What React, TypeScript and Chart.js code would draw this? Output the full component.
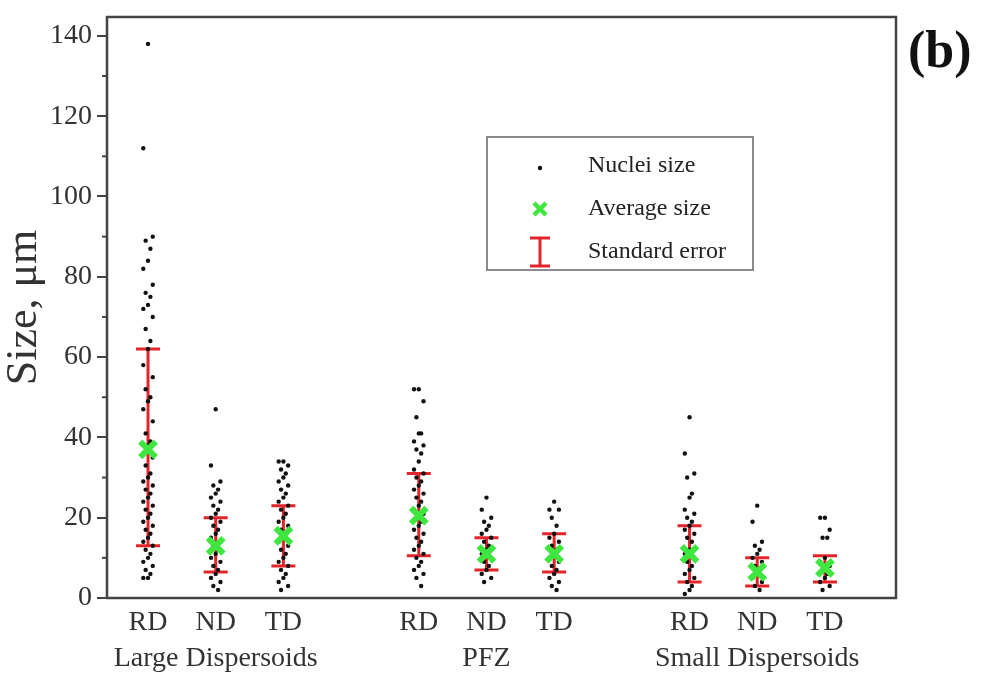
import React, { useEffect, useRef } from "react";
import { Chart, registerables } from "chart.js";

Chart.register(...registerables);

// ---- data ----
const categories = ["RD", "ND", "TD", "RD", "ND", "TD", "RD", "ND", "TD"];
const groupLabels = ["Large Dispersoids", "PFZ", "Small Dispersoids"];
const positions = [1, 2, 3, 5, 6, 7, 9, 10, 11];

const largeRD = [138, 112, 90, 89, 87, 84, 82, 78, 76, 75, 73, 72, 70, 67, 64, 62, 58, 55, 52, 50, 49, 47, 44, 41, 39, 38, 36, 35, 33, 31, 30, 29, 28, 27, 26, 25, 24, 23, 22, 21, 20, 19, 18, 17, 16, 15, 14, 13, 12, 11, 10, 9, 8, 7, 6, 5, 5];
const largeND = [47, 33, 29, 28, 27, 26, 25, 24, 23, 22, 21, 20, 19, 18, 17, 16, 15, 14, 13, 12, 11, 10, 9, 8, 7, 6, 5, 4, 3, 2];
const largeTD = [34, 34, 33, 32, 31, 30, 29, 28, 27, 26, 25, 24, 23, 22, 21, 20, 19, 18, 17, 16, 15, 14, 13, 12, 11, 10, 9, 8, 7, 6, 5, 4, 3, 2];
const pfzRD = [52, 52, 49, 45, 41, 41, 39, 38, 37, 36, 34, 32, 31, 30, 29, 28, 27, 26, 25, 24, 23, 22, 21, 20, 19, 18, 17, 16, 15, 14, 13, 12, 11, 10, 9, 8, 7, 6, 5, 3];
const pfzND = [25, 22, 20, 19, 18, 17, 16, 15, 14, 13, 12, 11, 10, 9, 8, 7, 6, 5, 4];
const pfzTD = [24, 22, 22, 20, 18, 16, 15, 14, 13, 12, 11, 10, 9, 8, 7, 6, 5, 4, 3, 2];
const smallRD = [45, 36, 31, 30, 26, 25, 22, 21, 20, 19, 18, 17, 16, 15, 14, 12, 11, 10, 9, 8, 7, 6, 5, 4, 3, 2, 1];
const smallND = [23, 19, 14, 13, 12, 11, 10, 9, 8, 7, 6, 5, 4, 3, 2];
const smallTD = [20, 20, 17, 15, 15, 10, 9, 8, 7, 6, 5, 4, 3, 2];
const nucleiSizes = [largeRD, largeND, largeTD, pfzRD, pfzND, pfzTD, smallRD, smallND, smallTD];

const averageSize = [37, 13, 15.5, 20.5, 11, 11, 11, 6.5, 7.5];
const errLow = [13, 6.5, 8, 10.5, 7, 6.5, 4, 3, 4];
const errHigh = [62, 20, 23, 31, 15, 16, 18, 10, 10.5];

const yTicks = [0, 20, 40, 60, 80, 100, 120, 140];
const yMinorTicks = [10, 30, 50, 70, 90, 110, 130];

const jitter = [0, -0.07, 0.07, -0.035, 0.035];

const RED = "#e3242b";
const GREEN = "#3fe63f";
const FONT = "'Liberation Serif', 'DejaVu Serif', serif";

export default function App() {
  const ref = useRef<HTMLCanvasElement | null>(null);

  useEffect(() => {
    const canvas = ref.current;
    if (!canvas) return;

    const pointData: { x: number; y: number }[] = [];
    nucleiSizes.forEach((arr, ci) => {
      arr.forEach((v, i) => {
        pointData.push({ x: positions[ci] + jitter[i % jitter.length], y: v });
      });
    });
    const meanData = positions.map((p, i) => ({ x: p, y: averageSize[i] }));

    const decor = {
      id: "decor",
      beforeDatasetsDraw(chart: any) {
        const { ctx, scales } = chart;
        const xs = scales.x, ys = scales.y;
        ctx.save();
        ctx.strokeStyle = RED;
        ctx.lineWidth = 3;
        positions.forEach((p, i) => {
          const x = xs.getPixelForValue(p);
          const y1 = ys.getPixelForValue(errLow[i]);
          const y2 = ys.getPixelForValue(errHigh[i]);
          ctx.beginPath();
          ctx.moveTo(x, y1);
          ctx.lineTo(x, y2);
          ctx.moveTo(x - 12, y1);
          ctx.lineTo(x + 12, y1);
          ctx.moveTo(x - 12, y2);
          ctx.lineTo(x + 12, y2);
          ctx.stroke();
        });
        ctx.restore();
      },
      afterDraw(chart: any) {
        const { ctx, chartArea, scales } = chart;
        ctx.save();
        // frame
        ctx.strokeStyle = "#444";
        ctx.lineWidth = 2.5;
        ctx.strokeRect(chartArea.left, chartArea.top, chartArea.right - chartArea.left, chartArea.bottom - chartArea.top);
        // minor ticks
        ctx.lineWidth = 2;
        yMinorTicks.forEach((v) => {
          const y = scales.y.getPixelForValue(v);
          ctx.beginPath();
          ctx.moveTo(chartArea.left - 5, y);
          ctx.lineTo(chartArea.left, y);
          ctx.stroke();
        });
        // legend
        ctx.strokeStyle = "#666";
        ctx.lineWidth = 1.5;
        ctx.strokeRect(487, 137, 266, 133);
        ctx.fillStyle = "#111";
        ctx.beginPath();
        ctx.arc(540, 168, 2.2, 0, Math.PI * 2);
        ctx.fill();
        ctx.strokeStyle = GREEN;
        ctx.lineWidth = 4.5;
        ctx.beginPath();
        ctx.moveTo(534, 203);
        ctx.lineTo(546, 215);
        ctx.moveTo(546, 203);
        ctx.lineTo(534, 215);
        ctx.stroke();
        ctx.strokeStyle = RED;
        ctx.lineWidth = 3;
        ctx.beginPath();
        ctx.moveTo(540, 238);
        ctx.lineTo(540, 266);
        ctx.moveTo(530, 238);
        ctx.lineTo(550, 238);
        ctx.moveTo(530, 266);
        ctx.lineTo(550, 266);
        ctx.stroke();
        ctx.fillStyle = "#222";
        ctx.font = `24px ${FONT}`;
        ctx.textBaseline = "middle";
        ctx.textAlign = "left";
        ctx.fillText("Nuclei size", 588, 166);
        ctx.fillText("Average size", 588, 209);
        ctx.fillText("Standard error", 588, 252);
        // panel label
        ctx.font = `bold 52px ${FONT}`;
        ctx.fillStyle = "#111";
        ctx.fillText("(b)", 908, 54);
        ctx.restore();
      },
    };

    const chart = new Chart(canvas, {
      type: "scatter",
      data: {
        datasets: [
          {
            label: "Average size",
            data: meanData,
            pointStyle: "crossRot",
            pointRadius: 11,
            pointBorderWidth: 6,
            borderColor: GREEN,
            backgroundColor: GREEN,
            order: 0,
          },
          {
            label: "Nuclei size",
            data: pointData,
            pointRadius: 2.2,
            pointBorderWidth: 0,
            backgroundColor: "#111",
            borderColor: "#111",
            order: 1,
          },
        ],
      },
      plugins: [decor],
      options: {
        responsive: false,
        animation: false,
        layout: { padding: { top: 14, right: 86, left: 0, bottom: 0 } },
        plugins: { legend: { display: false }, tooltip: { enabled: false } },
        scales: {
          x: {
            type: "linear",
            min: 0.394,
            max: 12.05,
            afterBuildTicks: (axis: any) => {
              axis.ticks = positions.map((v) => ({ value: v }));
            },
            afterFit: (axis: any) => {
              axis.height = 77;
            },
            grid: { display: true, drawOnChartArea: false, drawTicks: false, color: "rgba(0,0,0,0)" },
            border: { display: false },
            ticks: {
              padding: 6,
              color: "#333",
              autoSkip: false,
              maxRotation: 0,
              minRotation: 0,
              font: { family: FONT, size: 28, lineHeight: 1.3 },
              callback: (v: any) => {
                const i = positions.indexOf(Number(v));
                if (i < 0) return "";
                if (i % 3 === 1) return [categories[i], groupLabels[Math.floor(i / 3)]];
                return categories[i];
              },
            },
          },
          y: {
            min: 0,
            max: 144.7,
            afterBuildTicks: (axis: any) => {
              axis.ticks = yTicks.map((v) => ({ value: v }));
            },
            afterFit: (axis: any) => {
              axis.width = 107;
              axis.paddingTop = 0;
              axis.paddingBottom = 0;
            },
            grid: { drawOnChartArea: false, drawTicks: true, tickLength: 10, color: "#444", lineWidth: 2 },
            border: { display: false },
            title: {
              display: true,
              text: "Size, μm",
              color: "#333",
              font: { family: FONT, size: 44, lineHeight: 1.1 },
              padding: { top: 0, bottom: 0 },
            },
            ticks: {
              padding: 5,
              color: "#333",
              font: { family: FONT, size: 28, lineHeight: 0.9 },
            },
          },
        },
      },
    } as any);

    return () => chart.destroy();
  }, []);

  return (
    <div style={{ position: "fixed", left: 0, top: 0, width: 982, height: 675, background: "#fff" }}>
      <canvas ref={ref} width={982} height={675} />
    </div>
  );
}
